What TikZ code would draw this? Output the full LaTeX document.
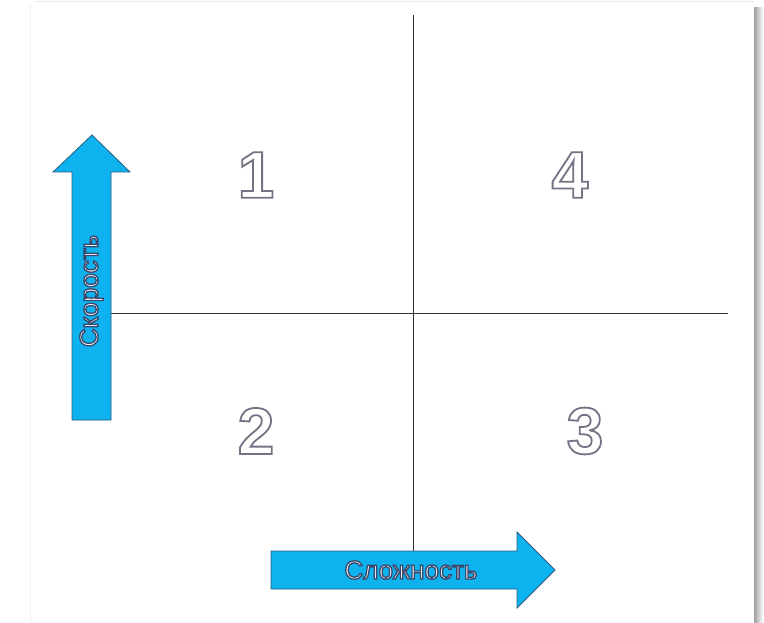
\documentclass[tikz,border=0pt]{standalone}
\usepackage{fontspec}
\setmainfont{Liberation Sans}
\definecolor{arrowblue}{HTML}{0EB2EE}
\definecolor{arrowedge}{HTML}{2A5C80}
\newcommand{\outlinetext}[3]{{\color{white}\special{pdf:code q 2 Tr #2 w #1 RG}#3\special{pdf:code Q}}}
\begin{document}
\begin{tikzpicture}[x=1pt,y=-1pt,
  axis/.style={draw=black!80,line width=0.9pt},
  bigarrow/.style={fill=arrowblue,draw=arrowedge,line width=0.8pt,line join=miter},
  digit/.style={font=\fontsize{66}{66}\selectfont\bfseries,inner sep=0pt},
  arrowlabel/.style={font=\fontsize{26}{26}\selectfont,inner sep=0pt}]
\useasboundingbox (0,0) rectangle (764,623);
\fill[white] (0,0) rectangle (764,623);
% page shadow
\shade[left color=black!38,right color=white] (754,8) rectangle (763,623);
\draw[black!6,line width=0.6pt] (30,4) -- (30,623);
\draw[black!8,line width=0.6pt] (34,1) -- (754,1);
% coordinates
\coordinate (vtop) at (413,15);
\coordinate (vbot) at (413,551);
\coordinate (hleft) at (111,313);
\coordinate (hright) at (728,313);
% axes
\draw[axis] (vtop) -- (vbot);
\draw[axis] (hleft) -- (hright);
% vertical arrow
\draw[bigarrow] (72,420) -- (72,172) -- (53,172) -- (92,135) -- (130,172) -- (111,172) -- (111,420) -- cycle;
\node[arrowlabel,rotate=90] (speed) at (91.5,291) {\outlinetext{0.22 0.28 0.42}{1.3}{Скорость}};
% horizontal arrow
\draw[bigarrow] (271,551) -- (517,551) -- (517,532) -- (555,570) -- (517,608) -- (517,589) -- (271,589) -- cycle;
\node[arrowlabel] (complex) at (411,570) {\outlinetext{0.22 0.28 0.42}{1.3}{Сложность}};
% digits
\node[digit] (q1) at (256,175) {\outlinetext{0.45 0.45 0.52}{1.8}{1}};
\node[digit] (q4) at (570,175) {\outlinetext{0.45 0.45 0.52}{1.8}{4}};
\node[digit] (q2) at (256,431) {\outlinetext{0.45 0.45 0.52}{1.8}{2}};
\node[digit] (q3) at (585,431) {\outlinetext{0.45 0.45 0.52}{1.8}{3}};
\end{tikzpicture}
\end{document}
